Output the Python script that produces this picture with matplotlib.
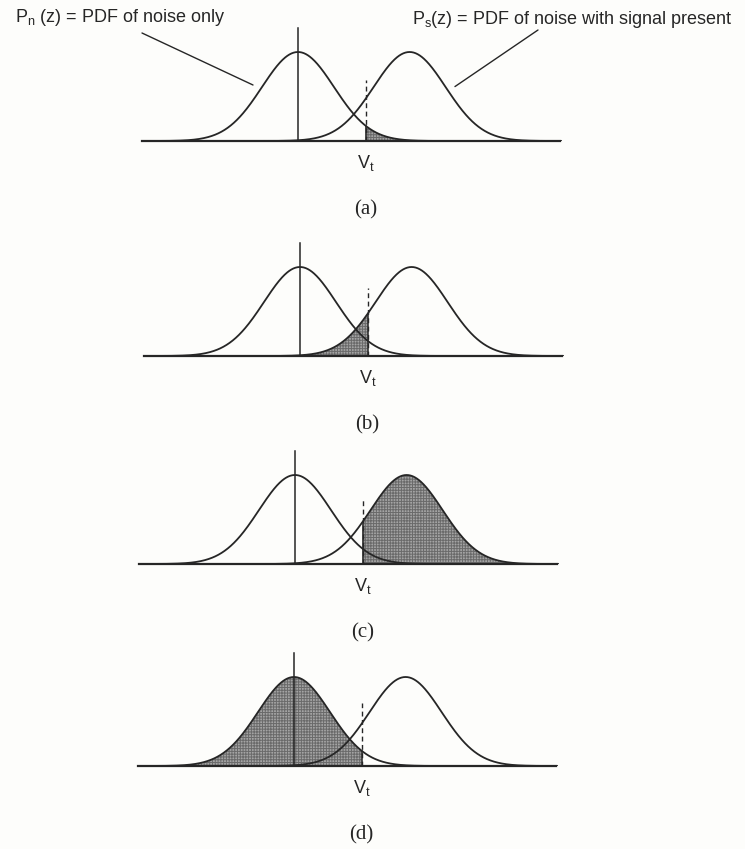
import numpy as np
import matplotlib.pyplot as plt

W, H, DPI = 745, 849, 100

# z measured in units of the noise standard deviation
noise_mean = 0.0
signal_mean = 3.1
sigma = 1.0
threshold = 1.88
z_span = (-4.33, 7.28)
marker_height = 0.507          # vertical line at the noise mean
dash_height = [0.273, 0.305, 0.296, 0.283]

panel_names = ["(a)", "(b)", "(c)", "(d)"]
shaded_pdf = ["noise", "signal", "signal", "noise"]
shaded_side = ["above", "below", "above", "below"]

# page layout in pixels
panel_x = [298, 300, 295, 294]      # x of the noise mean
panel_y = [141, 356, 564, 766]      # y of the baseline
px_per_sigma = 36
peak_px = 89

ink = "#262626"
serif = ["Liberation Serif", "DejaVu Serif"]
sans = ["Liberation Sans", "DejaVu Sans"]


def pdf(z, mu):
    return np.exp(-0.5 * ((z - mu) / sigma) ** 2) / (sigma * np.sqrt(2 * np.pi))


fig = plt.figure(figsize=(W / DPI, H / DPI), dpi=DPI)
fig.patch.set_facecolor("#fdfdfb")
plt.rcParams["hatch.linewidth"] = 0.7

peak = pdf(0, 0)
ax_h = 140
axes = []
for i, name in enumerate(panel_names):
    x0, x1 = 100, 620
    ax = fig.add_axes([x0 / W, 1 - panel_y[i] / H, (x1 - x0) / W, ax_h / H])
    ax.set_xlim((x0 - panel_x[i]) / px_per_sigma, (x1 - panel_x[i]) / px_per_sigma)
    ax.set_ylim(0, peak * ax_h / peak_px)
    ax.axis("off")
    axes.append(ax)

    z = np.linspace(noise_mean - 4.2, signal_mean + 4.2, 800)
    pn = pdf(z, noise_mean)
    ps = pdf(z, signal_mean)

    # shaded probability area, closed by a solid edge at the threshold
    mu = noise_mean if shaded_pdf[i] == "noise" else signal_mean
    curve = pdf(z, mu)
    mask = z >= threshold if shaded_side[i] == "above" else z <= threshold
    zs = np.append(z[mask], threshold) if shaded_side[i] == "below" else np.insert(z[mask], 0, threshold)
    cs = pdf(zs, mu)
    ax.fill_between(zs, 0, cs, facecolor="#a4a4a4",
                    edgecolor="#6a6a6a", hatch="++++++", linewidth=0, zorder=1)
    ax.plot([threshold, threshold], [0, pdf(threshold, mu)], color=ink, lw=1.1, zorder=3)

    ax.plot(z, pn, color=ink, lw=1.3, zorder=3)
    ax.plot(z, ps, color=ink, lw=1.3, zorder=3)
    ax.plot(z_span, [0, 0], color=ink, lw=1.6, clip_on=False, zorder=4)
    ax.plot([noise_mean, noise_mean], [0, marker_height], color=ink, lw=1.1, zorder=3)
    ax.plot([threshold, threshold], [0, dash_height[i]], color=ink, lw=1.0,
            ls=(0, (3.5, 2.5)), zorder=3)

    ax.text(threshold, -22 / peak_px * peak, r"V$_\mathregular{t}$", ha="center",
            va="center", fontsize=13, family=sans, color=ink)
    ax.text(threshold, -69 / peak_px * peak, name, ha="center", va="center",
            fontsize=15, family=serif, color=ink)

# curve labels with leader lines on the first panel
ax = axes[0]
fig.text(15 / W, 1 - 18 / H, r"P$_\mathregular{n}$ (z) = PDF of noise only",
         ha="left", va="center", fontsize=13, family=sans, color=ink)
fig.text(412 / W, 1 - 20 / H, r"P$_\mathregular{s}$(z) = PDF of noise with signal present",
         ha="left", va="center", fontsize=13, family=sans, color=ink)
ax.annotate("", xy=(-1.25, 0.251), xycoords="data",
            xytext=(142 / W, 1 - 33 / H), textcoords="figure fraction",
            arrowprops=dict(arrowstyle="-", color=ink, lw=1.0, shrinkA=0, shrinkB=0))
ax.annotate("", xy=(4.36, 0.244), xycoords="data",
            xytext=(538 / W, 1 - 30 / H), textcoords="figure fraction",
            arrowprops=dict(arrowstyle="-", color=ink, lw=1.0, shrinkA=0, shrinkB=0))

fig.savefig("out.png", dpi=DPI, facecolor=fig.get_facecolor())
